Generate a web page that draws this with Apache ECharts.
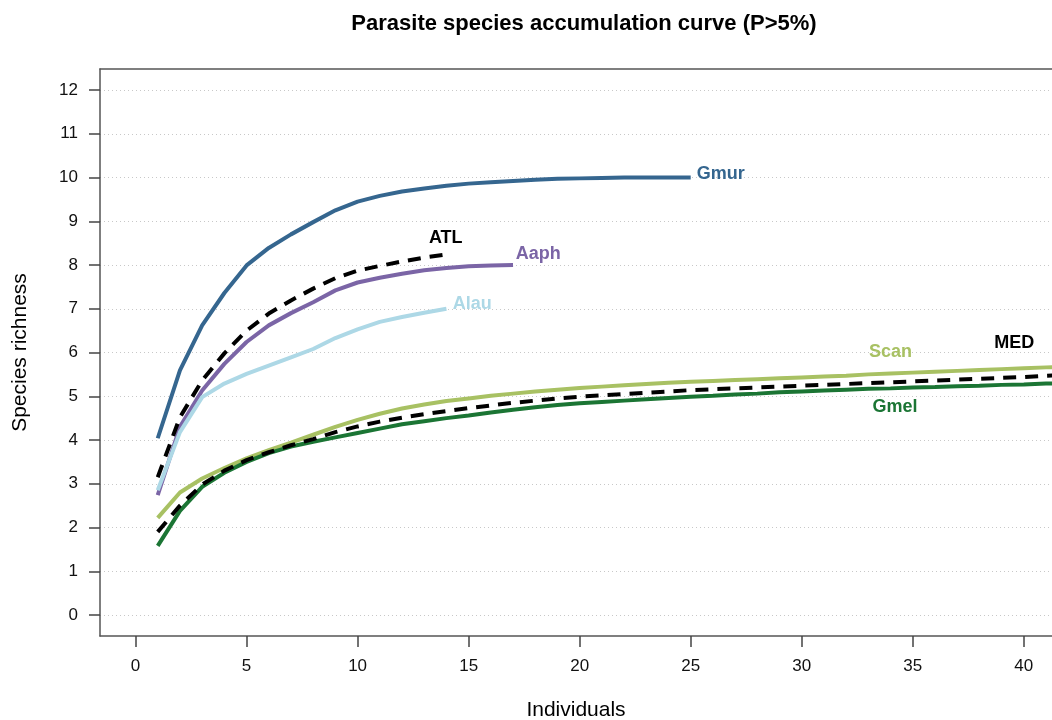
<!DOCTYPE html>
<html>
<head>
<meta charset="utf-8">
<script src="https://cdn.jsdelivr.net/npm/echarts@6/dist/echarts.min.js"></script>
<style>
  html, body { margin: 0; padding: 0; background: #fff; }
  #chart { width: 1052px; height: 720px; }
</style>
</head>
<body>
<div id="chart"></div>
<script>
  // species richness per number of individuals (x = 1, 2, 3 ...)
  var gmur = [4.04, 5.59, 6.62, 7.36, 7.99, 8.39, 8.70, 8.98, 9.25, 9.45, 9.58, 9.68, 9.75, 9.81, 9.86,
    9.89, 9.92, 9.95, 9.97, 9.98, 9.99, 10.0, 10.0, 10.0, 10.0];
  var atl = [3.15, 4.52, 5.36, 5.98, 6.50, 6.89, 7.19, 7.46, 7.70, 7.87, 7.98, 8.08, 8.17, 8.24];
  var aaph = [2.74, 4.30, 5.13, 5.74, 6.24, 6.62, 6.90, 7.15, 7.42, 7.60, 7.71, 7.80, 7.88, 7.93, 7.97, 7.99, 8.0];
  var alau = [2.85, 4.18, 4.98, 5.29, 5.51, 5.70, 5.89, 6.08, 6.33, 6.53, 6.70, 6.81, 6.91, 7.0];
  var scan = [2.22, 2.80, 3.12, 3.36, 3.58, 3.77, 3.94, 4.12, 4.30, 4.46, 4.60, 4.72, 4.81, 4.89, 4.95,
    5.01, 5.06, 5.11, 5.15, 5.19, 5.22, 5.25, 5.28, 5.31, 5.33, 5.35, 5.37, 5.39, 5.41, 5.43,
    5.45, 5.47, 5.50, 5.52, 5.54, 5.56, 5.58, 5.60, 5.62, 5.64, 5.66, 5.68];
  var med = [1.90, 2.50, 2.98, 3.30, 3.54, 3.72, 3.88, 4.02, 4.18, 4.31, 4.42, 4.51, 4.59, 4.66, 4.73,
    4.79, 4.85, 4.90, 4.95, 4.99, 5.02, 5.05, 5.08, 5.11, 5.14, 5.16, 5.18, 5.20, 5.22, 5.24,
    5.26, 5.28, 5.30, 5.32, 5.34, 5.36, 5.38, 5.40, 5.42, 5.44, 5.47, 5.49];
  var gmel = [1.58, 2.38, 2.93, 3.25, 3.50, 3.70, 3.85, 3.96, 4.06, 4.16, 4.26, 4.36, 4.43, 4.50, 4.56,
    4.63, 4.69, 4.75, 4.80, 4.84, 4.87, 4.90, 4.93, 4.96, 4.99, 5.01, 5.04, 5.06, 5.09, 5.11,
    5.13, 5.15, 5.17, 5.18, 5.20, 5.21, 5.23, 5.24, 5.26, 5.27, 5.29, 5.30];

  var xTicks = [0, 5, 10, 15, 20, 25, 30, 35, 40];
  var yTicks = [0, 1, 2, 3, 4, 5, 6, 7, 8, 9, 10, 11, 12];

  // curve names written next to the lines: [text, x, y, align]
  var curveLabels = [
    ['Gmur', 25.27, 10.08, 'left'],
    ['ATL', 13.97, 8.62, 'center'],
    ['Aaph', 17.12, 8.26, 'left'],
    ['Alau', 14.28, 7.10, 'left'],
    ['Scan', 34.0, 6.02, 'center'],
    ['MED', 39.57, 6.21, 'center'],
    ['Gmel', 34.2, 4.75, 'center']
  ];

  var colors = {
    Gmur: '#35668f',
    ATL: '#000000',
    Aaph: '#7b65a6',
    Alau: '#add8e6',
    Scan: '#a8c163',
    MED: '#000000',
    Gmel: '#1b7534'
  };

  var font = '"Liberation Sans", Arial, sans-serif';
  var boxLine = {show: true, onZero: false, lineStyle: {color: '#555', width: 1.5}};

  function toPairs(arr) {
    return arr.map(function (v, i) { return [i + 1, v]; });
  }

  function curve(name, arr, dashed) {
    return {
      name: name,
      type: 'line',
      data: toPairs(arr),
      showSymbol: false,
      symbol: 'none',
      silent: true,
      lineStyle: {
        color: colors[name],
        width: 4,
        type: dashed ? [13, 9] : 'solid',
        cap: 'butt'
      },
      z: dashed ? 4 : 3
    };
  }

  var series = [
    curve('Gmur', gmur),
    curve('Aaph', aaph),
    curve('Alau', alau),
    curve('Scan', scan),
    curve('Gmel', gmel),
    curve('ATL', atl, true),
    curve('MED', med, true)
  ];

  // labels go through the axes as well
  curveLabels.forEach(function (l) {
    series.push({
      type: 'scatter',
      symbolSize: 0,
      silent: true,
      z: 5,
      itemStyle: {opacity: 1},
      data: [[l[1], l[2]]],
      label: {
        show: true,
        position: 'inside',
        formatter: l[0],
        align: l[3],
        verticalAlign: 'middle',
        color: colors[l[0]],
        opacity: 1,
        textBorderWidth: 0,
        textBorderColor: 'transparent',
        fontFamily: font,
        fontWeight: 'bold',
        fontSize: 18
      }
    });
  });

  var chart = echarts.init(document.getElementById('chart'), null, {renderer: 'canvas'});
  chart.setOption({
    animation: false,
    backgroundColor: '#fff',
    title: {
      text: 'Parasite species accumulation curve (P>5%)',
      left: 579,
      top: 8,
      textAlign: 'center',
      textStyle: {fontFamily: font, fontWeight: 'bold', fontSize: 22, color: '#000'}
    },
    grid: {
      left: 100,
      right: 0,
      top: 69,
      bottom: 84,
      show: false,
      containLabel: false,
      outerBoundsMode: 'none'
    },
    xAxis: [{
      type: 'value',
      min: -1.6,
      max: 41.27,
      name: 'Individuals',
      nameLocation: 'middle',
      nameGap: 64,
      nameTextStyle: {fontFamily: font, fontSize: 21, color: '#000'},
      axisLine: boxLine,
      axisTick: {show: true, customValues: xTicks, length: 11, lineStyle: {color: '#444', width: 1.5}},
      axisLabel: {customValues: xTicks, margin: 22, fontFamily: font, fontSize: 17, color: '#111'},
      splitLine: {show: false}
    }, {
      // top edge of the box
      type: 'value',
      position: 'top',
      min: -1.6,
      max: 41.27,
      axisLine: boxLine,
      axisTick: {show: false},
      axisLabel: {show: false},
      splitLine: {show: false}
    }],
    yAxis: {
      type: 'value',
      min: -0.48,
      max: 12.48,
      name: 'Species richness',
      nameLocation: 'middle',
      nameGap: 69,
      nameTextStyle: {fontFamily: font, fontSize: 21, color: '#000'},
      axisLine: boxLine,
      axisTick: {show: true, customValues: yTicks, length: 11, lineStyle: {color: '#444', width: 1.5}},
      axisLabel: {customValues: yTicks, margin: 22, fontFamily: font, fontSize: 17, color: '#111'},
      splitLine: {
        show: true,
        customValues: yTicks,
        lineStyle: {color: '#c8c8c8', width: 1, type: [1, 3]}
      }
    },
    series: series
  });
</script>
</body>
</html>
